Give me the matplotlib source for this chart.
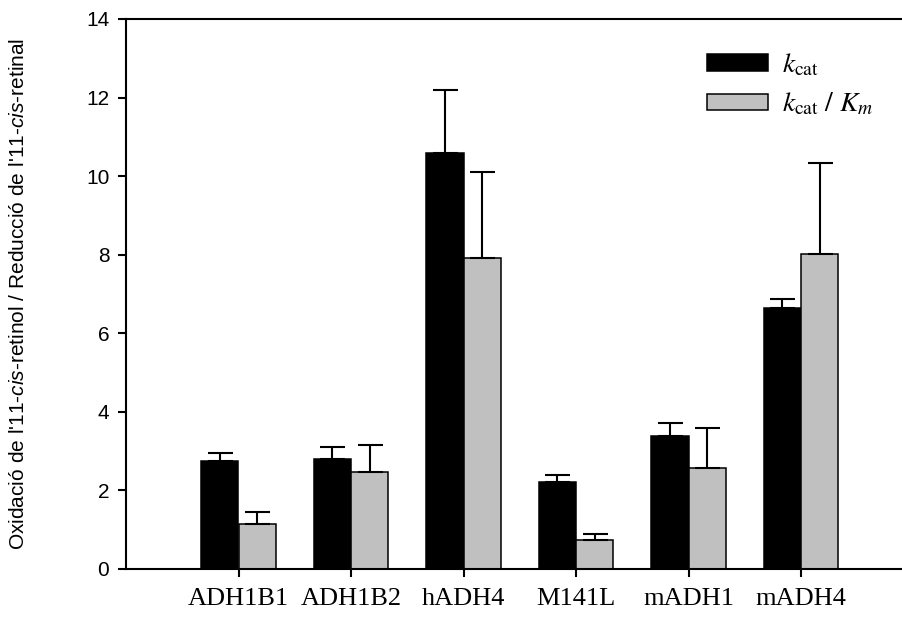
import numpy as np
import matplotlib.pyplot as plt
from matplotlib.patches import Patch
from matplotlib.font_manager import FontProperties

plt.rcParams['mathtext.fontset'] = 'custom'
plt.rcParams['mathtext.rm'] = 'Liberation Sans'
plt.rcParams['mathtext.it'] = 'Liberation Sans:italic'

# %% Data
enzymes = ['ADH1B1', 'ADH1B2', 'hADH4', 'M141L', 'mADH1', 'mADH4']
kcat = [2.75, 2.80, 10.58, 2.22, 3.39, 6.64]
kcat_err = [0.21, 0.30, 1.61, 0.17, 0.33, 0.24]
kcat_km = [1.14, 2.48, 7.92, 0.74, 2.58, 8.03]
kcat_km_err = [0.32, 0.68, 2.18, 0.15, 1.02, 2.30]

# %% Plot
fig = plt.figure(figsize=(9.03, 6.18), dpi=100)
ax = fig.add_axes([126/903, 49/618, 1 - 126/903, 550/618])

x = np.arange(1, len(enzymes) + 1)
w = 0.33
ax.bar(x - w/2, kcat, w, color='black', edgecolor='black', linewidth=1.1, zorder=2)
ax.bar(x + w/2, kcat_km, w, color='#c0c0c0', edgecolor='black', linewidth=1.1, zorder=2)
ax.errorbar(x - w/2, kcat, yerr=[np.zeros(len(x)), kcat_err], fmt='none',
            ecolor='black', elinewidth=1.5, capsize=9, capthick=1.5, zorder=3)
ax.errorbar(x + w/2, kcat_km, yerr=[np.zeros(len(x)), kcat_km_err], fmt='none',
            ecolor='black', elinewidth=1.5, capsize=9, capthick=1.5, zorder=3)

ax.set_xlim(0, 777/112.5)
ax.set_ylim(0, 14)
ax.set_yticks(range(0, 15, 2))
ax.set_xticks(x)
ax.set_xticklabels(enzymes, family='Liberation Serif', fontsize=19)
for lab in ax.get_yticklabels():
    lab.set_family('Liberation Sans')
    lab.set_fontsize(15)
ax.tick_params(axis='both', direction='out', length=6, width=1.5)
ax.tick_params(axis='x', pad=8)
ax.tick_params(axis='y', pad=6)
for s in ['left', 'bottom', 'top']:
    ax.spines[s].set_linewidth(1.5)
ax.spines['right'].set_visible(False)

ax.set_ylabel("Oxidació de l'11-$\\it{cis}$-retinol / Reducció de l'11-$\\it{cis}$-retinal",
              family='Liberation Sans', fontsize=15)
ax.yaxis.set_label_coords(-98/777, 0.5)

handles = [Patch(facecolor='black', edgecolor='black', linewidth=1.1),
           Patch(facecolor='#c0c0c0', edgecolor='black', linewidth=1.1)]
leg_font = FontProperties(family='Liberation Serif', size=20, math_fontfamily='stix')
ax.legend(handles, [r'$k_{\mathrm{cat}}$', r'$k_{\mathrm{cat}}\ /\ K_m$'],
          loc='upper left', bbox_to_anchor=((682-126)/777, 1 - 8/550),
          frameon=False, prop=leg_font, handlelength=2.2, handleheight=0.55,
          handletextpad=0.5, labelspacing=0.45)

fig.savefig('out.png', dpi=100)
